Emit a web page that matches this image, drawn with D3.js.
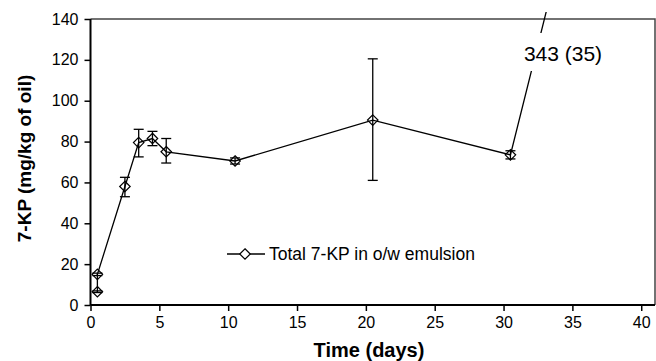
<!DOCTYPE html>
<html>
<head>
<meta charset="utf-8">
<script src="https://cdn.jsdelivr.net/npm/d3@7"></script>
<style>
  body { margin: 0; background: #fff; }
  text { font-family: "Liberation Sans", Arial, sans-serif; }
</style>
</head>
<body>
<script>
    // data
    var days = [0.5, 0.5, 2.5, 3.5, 4.5, 5.5, 10.5, 20.5, 30.5, 40.5];
    var kp = [6.5, 15, 58, 79.5, 81.5, 75, 70.5, 90.5, 73.5, 343];
    var errLow = [0.4, 0.6, 5, 7, 3.5, 5.5, 1.5, 29.5, 2, 0];
    var errHigh = [0.4, 0.6, 4.5, 6.5, 3.5, 6.5, 1.5, 30, 2, 0];
    var xTicks = [0, 5, 10, 15, 20, 25, 30, 35, 40];
    var yTicks = [0, 20, 40, 60, 80, 100, 120, 140];
    var seriesName = 'Total 7-KP in o/w emulsion';
    var offLabel = '343 (35)';

    var width = 656;
    var height = 361;
    var padL = 90.5, padR = 655, padT = 19, padB = 305;

    var svg = d3.select('body')
        .append('svg')
        .attr('width', width)
        .attr('height', height);

    var xScale = d3.scaleLinear().domain([0, 41]).range([padL, padR]);
    var yScale = d3.scaleLinear().domain([0, 140]).range([padB, padT]);

    // frame top/right
    svg.append('path')
        .attr('d', 'M' + padL + ',' + padT + 'H' + padR + 'V' + padB)
        .attr('fill', 'none')
        .attr('stroke', '#444')
        .attr('stroke-width', 1.5);

    svg.append('clipPath').attr('id', 'clip')
        .append('rect')
        .attr('x', 0).attr('y', 12)
        .attr('width', width).attr('height', height - 12);

    var values = days.map((d, i) => ({ x: d, y: kp[i], lo: errLow[i], hi: errHigh[i] }));

    // line
    var line = d3.line().x(d => xScale(d.x)).y(d => yScale(d.y));
    svg.append('path')
        .datum(values)
        .attr('d', line)
        .attr('clip-path', 'url(#clip)')
        .attr('fill', 'none')
        .attr('stroke', '#000')
        .attr('stroke-width', 1.3);

    // error bars
    var eb = svg.append('g').attr('stroke', '#000').attr('stroke-width', 1.3);
    values.filter(d => d.lo > 0 || d.hi > 0).forEach(d => {
        var cx = xScale(d.x);
        eb.append('line').attr('x1', cx).attr('x2', cx)
            .attr('y1', yScale(d.y - d.lo)).attr('y2', yScale(d.y + d.hi));
        [d.y - d.lo, d.y + d.hi].forEach(v => {
            eb.append('line').attr('x1', cx - 5).attr('x2', cx + 5)
                .attr('y1', yScale(v)).attr('y2', yScale(v));
        });
    });

    // markers
    var diamond = d3.symbol().type(d3.symbolDiamond2).size(70);
    svg.selectAll('.pt')
        .data(values.filter(d => d.y <= 140))
        .enter()
        .append('path')
        .attr('class', 'pt')
        .attr('d', diamond)
        .attr('transform', d => 'translate(' + xScale(d.x) + ',' + yScale(d.y) + ')')
        .attr('fill', 'none')
        .attr('stroke', '#000')
        .attr('stroke-width', 1.2);

    // off-scale label
    svg.append('rect')
        .attr('x', 518).attr('y', 33)
        .attr('width', 92).attr('height', 38)
        .attr('fill', '#fff');
    svg.append('text')
        .attr('x', 563).attr('y', 60.5)
        .attr('text-anchor', 'middle')
        .attr('font-size', 21)
        .text(offLabel);

    // axes
    var xAxis = d3.axisBottom(xScale).tickValues(xTicks).tickSize(6).tickPadding(6);
    var gx = svg.append('g')
        .attr('transform', 'translate(0,' + padB + ')')
        .call(xAxis);
    var yAxis = d3.axisLeft(yScale).tickValues(yTicks).tickSize(6).tickPadding(6);
    var gy = svg.append('g')
        .attr('transform', 'translate(' + padL + ',0)')
        .call(yAxis);
    [gx, gy].forEach(g => {
        g.select('.domain').attr('stroke', '#000').attr('stroke-width', 2);
        g.selectAll('.tick line').attr('stroke', '#000').attr('stroke-width', 1.5);
        g.selectAll('.tick text')
            .attr('fill', '#000')
            .style('font-family', '"Liberation Sans", Arial, sans-serif')
            .attr('font-size', 16);
    });
    gx.select('.domain').attr('d', 'M' + padL + ',0H' + padR);
    gy.select('.domain').attr('d', 'M0,' + padT + 'V' + padB);

    // axis titles
    svg.append('text')
        .attr('x', 369).attr('y', 357)
        .attr('text-anchor', 'middle')
        .attr('font-size', 20)
        .attr('font-weight', 'bold')
        .text('Time (days)');
    svg.append('text')
        .attr('transform', 'translate(31,158.5) rotate(-90)')
        .attr('text-anchor', 'middle')
        .attr('font-size', 19)
        .attr('font-weight', 'bold')
        .text('7-KP (mg/kg of oil)');

    // legend
    var lg = svg.append('g');
    lg.append('line')
        .attr('x1', 227).attr('x2', 265).attr('y1', 254).attr('y2', 254)
        .attr('stroke', '#000').attr('stroke-width', 1.3);
    lg.append('path')
        .attr('d', diamond)
        .attr('transform', 'translate(245,254)')
        .attr('fill', '#fff')
        .attr('stroke', '#000')
        .attr('stroke-width', 1.2);
    lg.append('text')
        .attr('x', 269).attr('y', 260)
        .attr('font-size', 17.5)
        .text(seriesName);
</script>
</body>
</html>
